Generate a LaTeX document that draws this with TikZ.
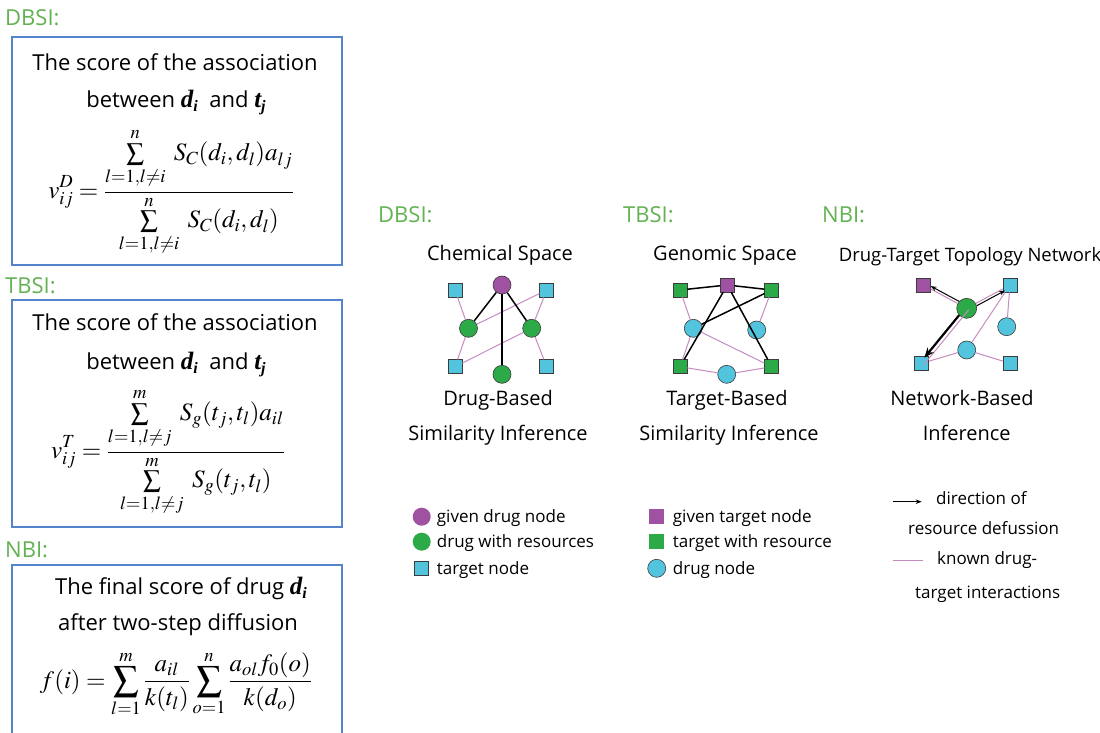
\documentclass[tikz,border=0pt]{standalone}
\usepackage{amsmath}
\usepackage{mathptmx}
\usepackage[no-math]{fontspec}
\setmainfont{Open Sans}
\newfontfamily\tms{Liberation Serif}
\usetikzlibrary{arrows.meta,calc}
\definecolor{lblgreen}{RGB}{98,178,82}
\definecolor{boxblue}{RGB}{84,132,204}
\definecolor{npurple}{RGB}{160,82,162}
\definecolor{ngreen}{RGB}{44,170,72}
\definecolor{ncyan}{RGB}{82,196,222}
\definecolor{epink}{RGB}{198,140,192}
\definecolor{nline}{RGB}{60,60,60}
\newcommand{\bvar}[2]{{\tms\bfseries\itshape\fontsize{25}{27}\selectfont #1\raisebox{-0.3ex}{\fontsize{16}{16}\selectfont #2}}}
\begin{document}
\begin{tikzpicture}[x=1pt,y=-1pt,
  gl/.style={font=\fontsize{22}{26}\selectfont, text=lblgreen, anchor=west, inner sep=0pt, text height=15.5pt, text depth=0pt},
  bt/.style={font=\fontsize{22}{26}\selectfont, inner sep=0pt, text height=15.5pt, text depth=0pt},
  hd/.style={font=\fontsize{20}{24}\selectfont, inner sep=0pt, text height=14.3pt, text depth=0pt},
  lg/.style={font=\fontsize{17}{20}\selectfont, anchor=west, inner sep=0pt, text height=12.2pt, text depth=0pt},
  fm/.style={font=\fontsize{25}{30}\selectfont, inner sep=0pt},
  frame/.style={draw=boxblue, line width=2pt, inner sep=0pt},
  sq/.style={draw=nline, line width=0.6pt, minimum size=14pt, inner sep=0pt, rectangle},
  ci/.style={draw=nline, line width=0.6pt, minimum size=18pt, inner sep=0pt, circle},
  kn/.style={draw=epink, line width=1pt},
  rs/.style={draw=black, line width=1.5pt},
  tip/.style={-{Stealth[length=6pt,width=4.5pt]}}
]
\clip (0,0) rectangle (1100,733);
\fill[white] (0,0) rectangle (1100,733);

% ---------- left formula boxes ----------
\node[gl] (lD) at (5,18) {DBSI:};
\node[frame, minimum width=330pt, minimum height=228pt] (box1) at (177,151) {};
\node[bt] (b1l1) at (175,63) {The score of the association};
\node[bt] (b1l2) at (176,100) {between \bvar{d}{i}\ \ and \bvar{t}{j}};
\node[fm] (b1f) at (171,192) {$\displaystyle v^{D}_{ij}=\frac{\sum\limits_{l=1,l\neq i}^{n}\; S_C(d_i,d_l)a_{lj}}{\sum\limits_{l=1,l\neq i}^{n}\; S_C(d_i,d_l)}$};

\node[gl] (lT) at (5,286) {TBSI:};
\node[frame, minimum width=330pt, minimum height=227pt] (box2) at (177,413.5) {};
\node[bt] (b2l1) at (175,323) {The score of the association};
\node[bt] (b2l2) at (176,362) {between \bvar{d}{i}\ \ and \bvar{t}{j}};
\node[fm] (b2f) at (168,452) {$\displaystyle v^{T}_{ij}=\frac{\sum\limits_{l=1,l\neq j}^{m}\; S_g(t_j,t_l)a_{il}}{\sum\limits_{l=1,l\neq j}^{m}\; S_g(t_j,t_l)}$};

\node[gl] (lN) at (5,550) {NBI:};
\node[frame, minimum width=330pt, minimum height=195pt] (box3) at (177,662.5) {};
\node[bt] (b3l1) at (181,587) {The final score of drug \bvar{d}{i}};
\node[bt] (b3l2) at (178,623) {after two-step diffusion};
\node[fm] (b3f) at (176,684) {$\displaystyle f(i)=\sum_{l=1}^{m}\frac{a_{il}}{k(t_l)}\sum_{o=1}^{n}\frac{a_{ol}f_0(o)}{k(d_o)}$};

% ---------- DBSI network ----------
\node[gl] (mD) at (378,215) {DBSI:};
\node[hd] (hD) at (500,253) {Chemical Space};
\node[ci, fill=npurple] (dP) at (502,285) {};
\node[sq, fill=ncyan] (dT1) at (455,290) {};
\node[sq, fill=ncyan] (dT2) at (546.7,290) {};
\node[sq, fill=ncyan] (dT3) at (455,366.7) {};
\node[sq, fill=ncyan] (dT4) at (546.7,366.7) {};
\node[ci, fill=ngreen] (dG1) at (468.5,328.3) {};
\node[ci, fill=ngreen] (dG2) at (531.7,328.3) {};
\node[ci, fill=ngreen] (dG3) at (502,374.3) {};
\draw[kn] (dT1) -- (dG1);
\draw[kn] (dG1) -- (dT2);
\draw[kn] (dG1) -- (dT3);
\draw[kn] (dG2) -- (dT2);
\draw[kn] (dG2) -- (dT3);
\draw[kn] (dG2) -- (dT4);
\draw[rs] (dP) -- (dG1);
\draw[rs] (dP) -- (dG2);
\draw[rs] (dP) -- (dG3);
\node[hd] (fD1) at (498,398) {Drug-Based};
\node[hd] (fD2) at (498,433) {Similarity Inference};

% ---------- TBSI network ----------
\node[gl] (mT) at (623,215) {TBSI:};
\node[hd] (hT) at (725,253) {Genomic Space};
\node[sq, fill=npurple] (tP) at (727.3,285) {};
\node[sq, fill=ngreen] (tG1) at (680,290) {};
\node[sq, fill=ngreen] (tG2) at (771.7,290) {};
\node[sq, fill=ngreen] (tG3) at (680,366.7) {};
\node[sq, fill=ngreen] (tG4) at (771.7,366.7) {};
\node[ci, fill=ncyan] (tC1) at (693.3,328.3) {};
\node[ci, fill=ncyan] (tC2) at (756.7,330) {};
\node[ci, fill=ncyan] (tC3) at (726.7,374.3) {};
\draw[kn] (tG1) -- (tC1);
\draw[kn] (tC1) -- (tG3);
\draw[kn] (tG2) -- (tC2);
\draw[kn] (tC1) -- (tG4);
\draw[kn] (tG3) -- (tC3);
\draw[kn] (tC3) -- (tG4);
\draw[rs] (tG1) -- (tP);
\draw[rs] (tP) -- (tG2);
\draw[rs] (tP) -- (tG3);
\draw[rs] (tP) -- (tG4);
\draw[rs] (tG2) -- (tC1);
\node[hd] (fT1) at (727,398) {Target-Based};
\node[hd] (fT2) at (729,433) {Similarity Inference};

% ---------- NBI network ----------
\node[gl] (mN) at (822,215) {NBI:};
\node[hd, font=\fontsize{18.5}{22}\selectfont, text height=13.2pt] (hN) at (970,255) {Drug-Target Topology Network};
\node[sq, fill=npurple] (nP) at (923.3,285) {};
\node[sq, fill=ncyan] (nT1) at (1010,285) {};
\node[ci, fill=ngreen, minimum size=20pt] (nG) at (966.7,308.3) {};
\node[ci, fill=ncyan] (nC1) at (1006.7,326.7) {};
\node[ci, fill=ncyan] (nC2) at (966.7,350) {};
\node[sq, fill=ncyan] (nT2) at (921.7,363.3) {};
\node[sq, fill=ncyan] (nT3) at (1010,363.3) {};
\draw[kn] (nT1) -- (nC1);
\draw[kn] (nT1) -- (nC2);
\draw[kn] (nT2) -- (nC2);
\draw[kn] (nC2) -- (nT3);
\draw[kn] (nG) -- (nP);
\draw[kn] (nG) -- (nT1);
\draw[kn] ($(nG)!2.5pt!90:(nT2)$) -- ($(nT2)!2.5pt!-90:(nG)$);
\draw[black, line width=1pt, tip, shorten <=10pt, shorten >=7pt] ($(nG)!2.5pt!-90:(nP)$) -- ($(nP)!2.5pt!90:(nG)$);
\draw[black, line width=1pt, tip, shorten <=10pt, shorten >=7pt] ($(nG)!2.5pt!-90:(nT1)$) -- ($(nT1)!2.5pt!90:(nG)$);
\draw[black, line width=2.2pt, -{Stealth[length=10pt,width=8pt]}, shorten <=10pt, shorten >=6pt] ($(nG)!1.5pt!-90:(nT2)$) -- ($(nT2)!1.5pt!90:(nG)$);
\node[hd] (fN1) at (962,398) {Network-Based};
\node[hd] (fN2) at (966.7,433) {Inference};

% ---------- legends ----------
\node[ci, fill=npurple, draw=none] (kP) at (421.7,516.7) {};
\node[ci, fill=ngreen, draw=none] (kG) at (421.7,541.7) {};
\node[sq, fill=ncyan] (kT) at (421.7,568.3) {};
\node[lg] (kPt) at (436.7,516.7) {given drug node};
\node[lg] (kGt) at (436.7,541.7) {drug with resources};
\node[lg] (kTt) at (436.7,568.3) {target node};

\node[sq, fill=npurple, draw=none, minimum size=15pt] (qP) at (656.7,516.7) {};
\node[sq, fill=ngreen, draw=none, minimum size=15pt] (qG) at (656.7,541.7) {};
\node[ci, fill=ncyan] (qC) at (656.7,568.3) {};
\node[lg] (qPt) at (672.7,516.7) {given target node};
\node[lg] (qGt) at (672.7,541.7) {target with resource};
\node[lg] (qCt) at (672.7,568.3) {drug node};

\coordinate (la1) at (893,501.7);
\coordinate (la2) at (921.7,501.7);
\draw[black, line width=1pt, tip] (la1) -- (la2);
\node[lg] (ra1) at (936,498) {direction of};
\node[lg] (ra2) at (908,528) {resource defussion};
\coordinate (lk1) at (893,560);
\coordinate (lk2) at (923,560);
\draw[kn] (lk1) -- (lk2);
\node[lg] (rk1) at (937,558) {known drug-};
\node[lg] (rk2) at (915,592) {target interactions};
\end{tikzpicture}
\end{document}
